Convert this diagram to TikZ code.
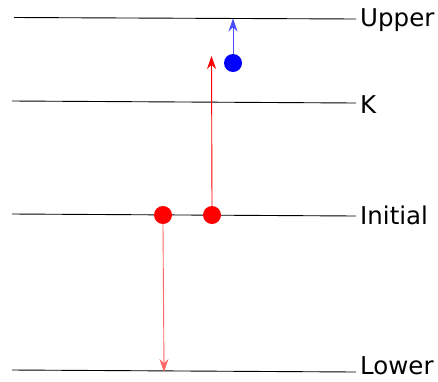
\documentclass[tikz,border=0pt]{standalone}
\usepackage{fontspec}
\setmainfont{DejaVu Sans}
\usetikzlibrary{arrows.meta}
\begin{document}
\begin{tikzpicture}[x=1pt,y=-1pt,
  level/.style={draw=black,line width=0.9pt},
  lbl/.style={anchor=west,inner sep=0pt,font=\fontsize{24.5}{27}\selectfont},
  dot/.style={circle,inner sep=0pt,minimum size=18pt},
  tip/.style={-{Stealth[length=13pt,width=9pt]},line width=0.9pt}]
\useasboundingbox (0,0) rectangle (438,381);
% labels
\node[lbl] (up) at (360,20) {Upper};
\node[lbl] (k) at (360,105) {K};
\node[lbl] (ini) at (360,215) {Initial};
\node[lbl] (low) at (360,366) {Lower};
% level lines
\coordinate (up0) at (14,17.5);
\coordinate (up1) at (356,19);
\coordinate (k0) at (12,101);
\coordinate (k1) at (356,103);
\coordinate (i0) at (12,214);
\coordinate (i1) at (356,216);
\coordinate (l0) at (12,370);
\coordinate (l1) at (356,372);
\draw[level] (up0) -- (up1);
\draw[level] (k0) -- (k1);
\draw[level] (i0) -- (i1);
\draw[level] (l0) -- (l1);
% dots
\node[dot,fill=red] (r1) at (163,215) {};
\node[dot,fill=red] (r2) at (212,215) {};
\node[dot,fill=blue] (b1) at (233,63) {};
% arrow targets
\coordinate (t1) at (211.5,56);
\coordinate (t2) at (233,18.5);
\coordinate (t3) at (164,372);
% arrows
\draw[tip,red] (r2.north) -- (t1);
\draw[tip,blue!70] (b1.north) -- (t2);
\draw[tip,red!60] (r1.south) -- (t3);
\end{tikzpicture}
\end{document}
